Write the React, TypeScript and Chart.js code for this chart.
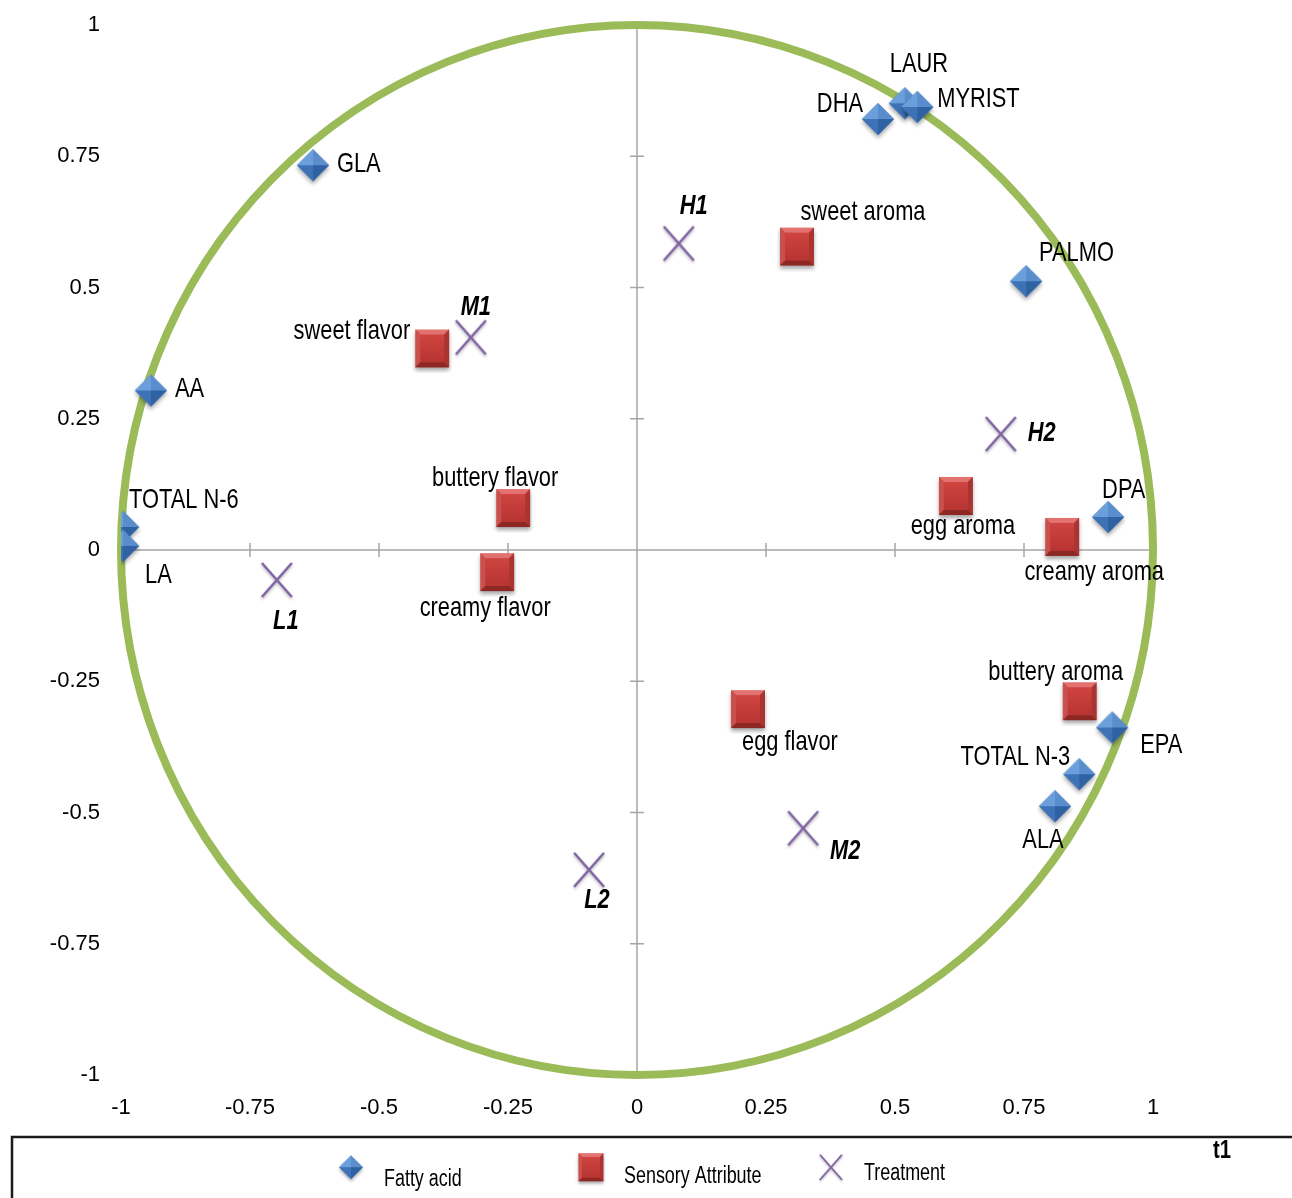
import { useEffect, useRef } from "react";
import { Chart, registerables } from "chart.js";

Chart.register(...registerables);

// Loadings on the first two components (t1, t2)
const fattyAcidNames = ["GLA", "AA", "TOTAL N-6", "LA", "DHA", "LAUR", "MYRIST", "PALMO", "DPA", "EPA", "TOTAL N-3", "ALA"];
const fattyAcidT1 = [-0.628, -0.942, -0.996, -0.996, 0.467, 0.519, 0.543, 0.754, 0.913, 0.921, 0.857, 0.81];
const fattyAcidT2 = [0.731, 0.302, 0.042, 0.006, 0.819, 0.849, 0.842, 0.51, 0.061, -0.34, -0.429, -0.49];

const sensoryNames = ["sweet aroma", "sweet flavor", "buttery flavor", "creamy flavor", "egg aroma", "creamy aroma", "buttery aroma", "egg flavor"];
const sensoryT1 = [0.31, -0.397, -0.24, -0.271, 0.618, 0.824, 0.858, 0.215];
const sensoryT2 = [0.576, 0.382, 0.078, -0.044, 0.101, 0.023, -0.29, -0.305];

const treatmentNames = ["H1", "M1", "H2", "L1", "L2", "M2"];
const treatmentT1 = [0.081, -0.322, 0.705, -0.698, -0.093, 0.322];
const treatmentT2 = [0.582, 0.403, 0.219, -0.059, -0.611, -0.532];

const seriesNames = ["Fatty acid", "Sensory Attribute", "Treatment"];
const axisTicks = [-1, -0.75, -0.5, -0.25, 0, 0.25, 0.5, 0.75, 1];
const axisTickLabels = ["-1", "-0.75", "-0.5", "-0.25", "0", "0.25", "0.5", "0.75", "1"];
const axisTitle = "t1";

// Label offsets (px) from each marker centre, and text alignment
const labelPlacement: Record<string, [number, number, CanvasTextAlign]> = {
  GLA: [24, -2, "left"],
  AA: [24, -2, "left"],
  "TOTAL N-6": [6, -28, "left"],
  LA: [22, 28, "left"],
  DHA: [-15, -16, "right"],
  LAUR: [-15, -40, "left"],
  MYRIST: [20, -9, "left"],
  PALMO: [13, -29, "left"],
  DPA: [-6, -28, "left"],
  EPA: [28, 17, "left"],
  "TOTAL N-3": [-9, -18, "right"],
  ALA: [-12, 33, "center"],
  "sweet aroma": [66, -35, "center"],
  "sweet flavor": [-22, -18, "right"],
  "buttery flavor": [-18, -31, "center"],
  "creamy flavor": [-12, 35, "center"],
  "egg aroma": [7, 29, "center"],
  "creamy aroma": [32, 34, "center"],
  "buttery aroma": [-24, -30, "center"],
  "egg flavor": [42, 32, "center"],
  H1: [15, -38, "center"],
  M1: [5, -31, "center"],
  H2: [27, -2, "left"],
  L1: [9, 40, "center"],
  L2: [8, 30, "center"],
  M2: [42, 22, "center"],
};

const SANS = "'Liberation Sans', Arial, sans-serif";
const CONDENSE = 0.78;
const CIRCLE_GREEN = "#9BBB59";
const AXIS_GREY = "#A6A6A6";

function makeCanvas(w: number, h: number) {
  const c = document.createElement("canvas");
  c.width = w;
  c.height = h;
  return c;
}

// Text squeezed horizontally to a narrow face
function condensedText(ctx: CanvasRenderingContext2D, text: string, x: number, y: number, align: CanvasTextAlign) {
  ctx.save();
  ctx.translate(x, y);
  ctx.scale(CONDENSE, 1);
  ctx.textAlign = align;
  ctx.fillText(text, 0, 0);
  ctx.restore();
}

// Bevelled blue diamond
function makeDiamond(): HTMLCanvasElement {
  const c = makeCanvas(40, 44);
  const ctx = c.getContext("2d")!;
  const cx = 20, cy = 21, r = 16;
  const T = [cx, cy - r], R = [cx + r, cy], B = [cx, cy + r], L = [cx - r, cy];
  ctx.save();
  ctx.shadowColor = "rgba(0,0,0,0.35)";
  ctx.shadowBlur = 4;
  ctx.shadowOffsetY = 3;
  ctx.beginPath();
  ctx.moveTo(T[0], T[1]); ctx.lineTo(R[0], R[1]); ctx.lineTo(B[0], B[1]); ctx.lineTo(L[0], L[1]);
  ctx.closePath();
  ctx.fillStyle = "#4A7EBB";
  ctx.fill();
  ctx.restore();
  const facet = (a: number[], b: number[], col: string) => {
    ctx.beginPath();
    ctx.moveTo(cx, cy); ctx.lineTo(a[0], a[1]); ctx.lineTo(b[0], b[1]);
    ctx.closePath();
    ctx.fillStyle = col;
    ctx.fill();
  };
  facet(L, T, "#6B9FDB");
  facet(T, R, "#5A8DCC");
  facet(R, B, "#2F62A3");
  facet(B, L, "#3D72B6");
  return c;
}

// Bevelled red square
function makeSquare(): HTMLCanvasElement {
  const c = makeCanvas(42, 48);
  const ctx = c.getContext("2d")!;
  const x0 = 4, y0 = 4, w = 34, h = 38, b = 5;
  ctx.save();
  ctx.shadowColor = "rgba(0,0,0,0.35)";
  ctx.shadowBlur = 4;
  ctx.shadowOffsetY = 3;
  ctx.fillStyle = "#C0403D";
  ctx.fillRect(x0, y0, w, h);
  ctx.restore();
  const poly = (pts: number[][], col: string) => {
    ctx.beginPath();
    ctx.moveTo(pts[0][0], pts[0][1]);
    for (let i = 1; i < pts.length; i++) ctx.lineTo(pts[i][0], pts[i][1]);
    ctx.closePath();
    ctx.fillStyle = col;
    ctx.fill();
  };
  const x1 = x0 + w, y1 = y0 + h;
  poly([[x0, y0], [x1, y0], [x1 - b, y0 + b], [x0 + b, y0 + b]], "#E2726F");
  poly([[x0, y0], [x0 + b, y0 + b], [x0 + b, y1 - b], [x0, y1]], "#C9504C");
  poly([[x1, y0], [x1, y1], [x1 - b, y1 - b], [x1 - b, y0 + b]], "#A93431");
  poly([[x0, y1], [x0 + b, y1 - b], [x1 - b, y1 - b], [x1, y1]], "#8C2724");
  const g = ctx.createLinearGradient(0, y0 + b, 0, y1 - b);
  g.addColorStop(0, "#CF4440");
  g.addColorStop(1, "#B83532");
  ctx.fillStyle = g;
  ctx.fillRect(x0 + b, y0 + b, w - 2 * b, h - 2 * b);
  return c;
}

// Purple cross
function makeCross(): HTMLCanvasElement {
  const c = makeCanvas(40, 46);
  const ctx = c.getContext("2d")!;
  const cx = 20, cy = 22, dx = 15, dy = 17;
  ctx.shadowColor = "rgba(0,0,0,0.25)";
  ctx.shadowBlur = 3;
  ctx.shadowOffsetY = 2;
  ctx.strokeStyle = "#8064A2";
  ctx.lineWidth = 2.6;
  ctx.beginPath();
  ctx.moveTo(cx - dx, cy - dy); ctx.lineTo(cx + dx, cy + dy);
  ctx.moveTo(cx + dx, cy - dy); ctx.lineTo(cx - dx, cy + dy);
  ctx.stroke();
  return c;
}

const toPoints = (xs: number[], ys: number[]) => xs.map((x, i) => ({ x, y: ys[i] }));

export default function App() {
  const canvasRef = useRef<HTMLCanvasElement | null>(null);

  useEffect(() => {
    const canvas = canvasRef.current;
    if (!canvas) return;

    const markers = [makeDiamond(), makeSquare(), makeCross()];
    const names = [fattyAcidNames, sensoryNames, treatmentNames];

    // Centred axes with crossing ticks, and the unit correlation circle
    const axesAndCircle = {
      id: "axesAndCircle",
      beforeDatasetsDraw(chart: any) {
        const { ctx, scales } = chart;
        const xs = scales.x, ys = scales.y;
        const x0 = xs.getPixelForValue(0), y0 = ys.getPixelForValue(0);
        ctx.save();
        ctx.strokeStyle = AXIS_GREY;
        ctx.lineWidth = 1.5;
        ctx.beginPath();
        ctx.moveTo(xs.getPixelForValue(-1), y0);
        ctx.lineTo(xs.getPixelForValue(1), y0);
        ctx.moveTo(x0, ys.getPixelForValue(1));
        ctx.lineTo(x0, ys.getPixelForValue(-1));
        axisTicks.forEach((v) => {
          if (v === 0 || Math.abs(v) === 1) return;
          const px = xs.getPixelForValue(v);
          ctx.moveTo(px, y0 - 7);
          ctx.lineTo(px, y0 + 7);
          const py = ys.getPixelForValue(v);
          ctx.moveTo(x0 - 7, py);
          ctx.lineTo(x0 + 7, py);
        });
        ctx.stroke();

        const rx = xs.getPixelForValue(1) - x0;
        const ry = y0 - ys.getPixelForValue(1);
        ctx.strokeStyle = CIRCLE_GREEN;
        ctx.lineWidth = 8;
        ctx.beginPath();
        ctx.ellipse(x0, y0, rx, ry, 0, 0, Math.PI * 2);
        ctx.stroke();
        ctx.restore();
      },
    };

    // Text labels beside every marker
    const pointLabels = {
      id: "pointLabels",
      afterDatasetsDraw(chart: any) {
        const { ctx } = chart;
        ctx.save();
        ctx.fillStyle = "#000";
        ctx.textBaseline = "middle";
        chart.data.datasets.forEach((ds: any, di: number) => {
          const meta = chart.getDatasetMeta(di);
          ctx.font = di === 2 ? `italic bold 28px ${SANS}` : `28px ${SANS}`;
          meta.data.forEach((el: any, j: number) => {
            const name = names[di][j];
            const [dx, dy, align] = labelPlacement[name] || [20, 0, "left"];
            condensedText(ctx, name, el.x + dx, el.y + dy, align);
          });
        });
        ctx.restore();
      },
    };

    // Boxed legend strip and the t1 axis title
    const legendStrip = {
      id: "legendStrip",
      afterDraw(chart: any) {
        const { ctx, chartArea, width } = chart;
        const top = chart.scales.x.bottom;
        ctx.save();
        ctx.strokeStyle = "#1A1A1A";
        ctx.lineWidth = 2.5;
        ctx.strokeRect(12, top + 1, width + 20, 200);

        ctx.font = `23px ${SANS}`;
        ctx.textBaseline = "middle";
        ctx.fillStyle = "#000";
        const slot = 240;
        const gap = 33;
        const lastW = gap + ctx.measureText(seriesNames[seriesNames.length - 1]).width * CONDENSE;
        const groupW = slot * (seriesNames.length - 1) + lastW;
        const start = width / 2 - groupW / 2 + 2;
        const my = top + 32;
        chart.data.datasets.forEach((ds: any, i: number) => {
          const img = markers[i];
          const scale = 0.74;
          const mx = start + i * slot;
          ctx.drawImage(img, mx - (img.width * scale) / 2, my - (img.height * scale) / 2, img.width * scale, img.height * scale);
          condensedText(ctx, ds.label, mx + gap, my + 12 - i * 3, "left");
        });

        ctx.font = `bold 26px ${SANS}`;
        condensedText(ctx, axisTitle, chartArea.right + 69, top + 15, "center");
        ctx.restore();
      },
    };

    const fixedTicks = (scale: any) => {
      scale.ticks = axisTicks.map((value) => ({ value }));
    };
    const tickLabel = (value: any) => {
      const i = axisTicks.indexOf(Number(value));
      return i >= 0 ? axisTickLabels[i] : "";
    };

    const chart = new Chart(canvas, {
      type: "scatter",
      data: {
        datasets: [
          { label: seriesNames[0], data: toPoints(fattyAcidT1, fattyAcidT2), pointStyle: markers[0], pointRadius: 16 },
          { label: seriesNames[1], data: toPoints(sensoryT1, sensoryT2), pointStyle: markers[1], pointRadius: 17 },
          { label: seriesNames[2], data: toPoints(treatmentT1, treatmentT2), pointStyle: markers[2], pointRadius: 16 },
        ],
      },
      options: {
        animation: false,
        responsive: false,
        devicePixelRatio: 1,
        layout: { autoPadding: false, padding: { top: 25, right: 139, bottom: 62, left: 0 } },
        plugins: {
          legend: { display: false },
          tooltip: { enabled: false },
        },
        scales: {
          x: {
            type: "linear",
            min: -1,
            max: 1,
            afterBuildTicks: fixedTicks,
            afterFit: (s: any) => {
              s.height = 61;
            },
            ticks: { callback: tickLabel, font: { family: SANS, size: 22 }, color: "#000", padding: 20, maxRotation: 0, autoSkip: false },
            grid: { display: false, drawTicks: false },
            border: { display: false },
          },
          y: {
            type: "linear",
            min: -1,
            max: 1,
            afterBuildTicks: fixedTicks,
            afterFit: (s: any) => {
              s.width = 121;
            },
            ticks: { callback: tickLabel, font: { family: SANS, size: 22, lineHeight: 0.35 }, color: "#000", padding: 21, autoSkip: false },
            grid: { display: false, drawTicks: false },
            border: { display: false },
          },
        },
      },
      plugins: [axesAndCircle, pointLabels, legendStrip],
    } as any);

    return () => chart.destroy();
  }, []);

  return (
    <div style={{ position: "absolute", left: 0, top: 0, width: 1292, height: 1198, background: "#fff", overflow: "hidden" }}>
      <canvas ref={canvasRef} width={1292} height={1198} style={{ display: "block" }} />
    </div>
  );
}
